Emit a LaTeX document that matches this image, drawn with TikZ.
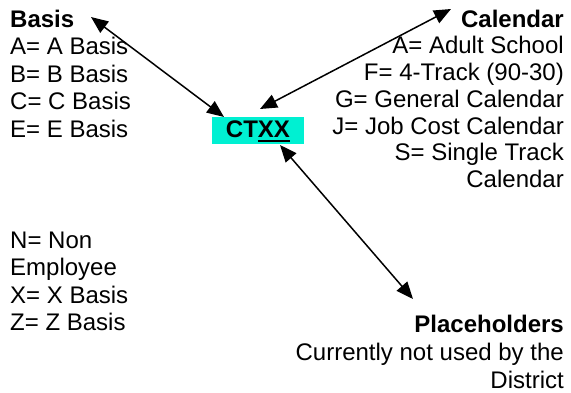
\documentclass[tikz,border=0pt]{standalone}
\usepackage{fontspec}
\setmainfont{Liberation Sans}
\usetikzlibrary{arrows.meta}
\definecolor{boxcyan}{RGB}{0,240,210}
\newcommand\myul[1]{\setbox0\hbox{#1}\rlap{\rule[-4.8pt]{\wd0}{1.8pt}}\box0}
\begin{document}
\begin{tikzpicture}[x=1pt,y=-1pt,
  txt/.style={font=\fontsize{24}{27.6}\selectfont, inner sep=0pt},
  lft/.style={txt, anchor=base west},
  rgt/.style={txt, anchor=base east},
  hdr/.style={font=\fontsize{24}{27.6}\selectfont\bfseries},
  codebox/.style={fill=boxcyan, inner sep=0pt, minimum width=92pt, minimum height=27pt,
    text height=17.2pt, text depth=4pt, font=\fontsize{24}{27.6}\selectfont\bfseries},
  arr/.style={line width=1.5pt, {Triangle[length=17pt,width=14pt]}-{Triangle[length=17pt,width=14pt]}}]
\useasboundingbox (0,0) rectangle (571,392);
% central code
\node[codebox] (ctxx) at (258,130.5) {CT\myul{XX}};
% Basis block
\node[lft,hdr] (basis) at (10,27) {Basis};
\foreach \t [count=\i] in {{A= A Basis},{B= B Basis},{C= C Basis},{E= E Basis}}
  \node[lft] (basis\i) at (10,{27+27.5*\i}) {\t};
% lower left block
\foreach \t [count=\i from 0] in {{N= Non},{Employee},{X= X Basis},{Z= Z Basis}}
  \node[lft] (other\i) at (10,{248+27.5*\i}) {\t};
% Calendar block
\node[rgt,hdr] (calendar) at (564,27) {Calendar};
\foreach \t [count=\i] in {{A= Adult School},{F= 4-Track (90-30)},{G= General Calendar},{J= Job Cost Calendar},{S= Single Track},{Calendar}}
  \node[rgt] (cal\i) at (564,{27+26.75*\i}) {\t};
% Placeholders block
\node[rgt,hdr] (place) at (564,332) {Placeholders};
\node[rgt] (place1) at (564,360) {Currently not used by the};
\node[rgt] (place2) at (564,388) {District};
% arrow ends
\coordinate (basistip) at (91,17);
\coordinate (ctxxA) at (224,117);
\coordinate (caltip) at (451,9);
\coordinate (ctxxB) at (260,109);
\coordinate (ctxxC) at (280,145);
\coordinate (placetip) at (413,299);
\draw[arr] (basistip) -- (ctxxA);
\draw[arr] (caltip) -- (ctxxB);
\draw[arr] (ctxxC) -- (placetip);
\end{tikzpicture}
\end{document}
